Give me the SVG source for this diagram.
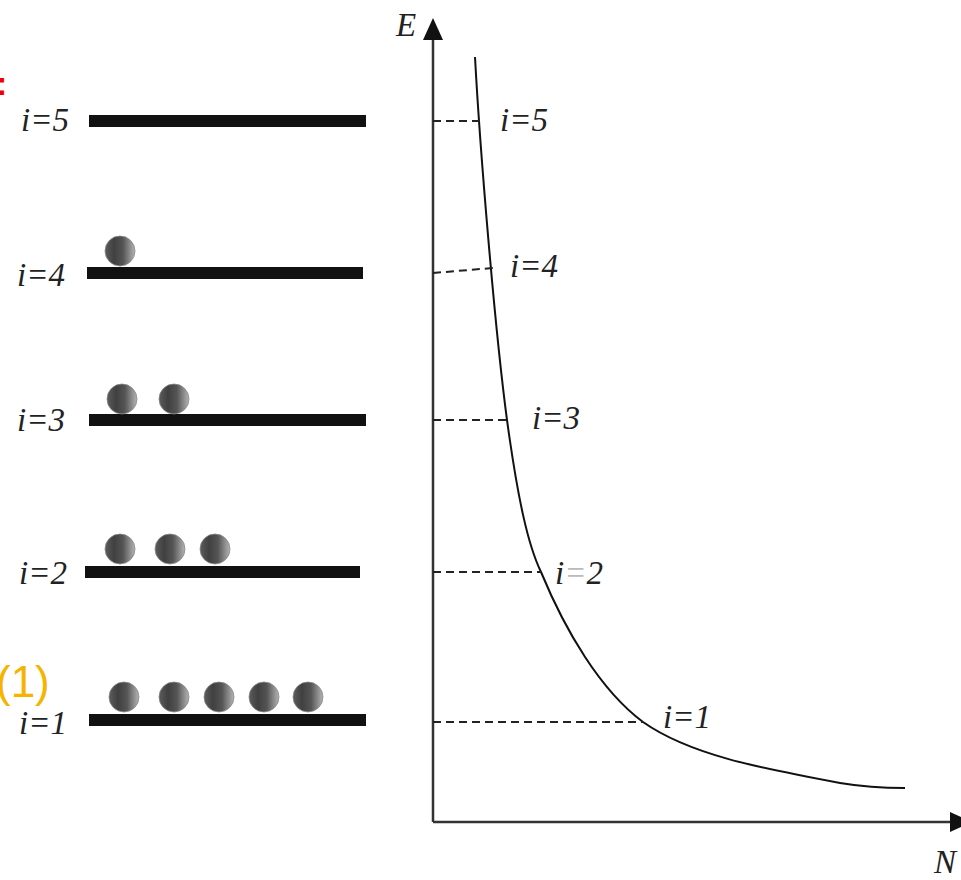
<svg xmlns="http://www.w3.org/2000/svg" width="961" height="880" viewBox="0 0 961 880">
<style>
.bar{fill:#111;}
.lbl{font-family:'Liberation Serif','Times New Roman','DejaVu Serif',serif;font-style:italic;font-size:33px;fill:#222;}
.ball{fill:url(#bg);stroke:#888;stroke-width:0.8;}
.dash{stroke:#222;stroke-width:2;stroke-dasharray:8,5;fill:none;}
.axis{stroke:#333;stroke-width:2.5;fill:none;}
</style>
<defs>
<linearGradient id="bg" x1="0" y1="0" x2="1" y2="0">
<stop offset="0" stop-color="#5c5c5c"/>
<stop offset="0.3" stop-color="#404040"/>
<stop offset="0.6" stop-color="#555"/>
<stop offset="1" stop-color="#b5b5b5"/>
</linearGradient>
</defs>
<rect width="961" height="880" fill="#fff"/>
<text x="-4" y="95" font-family="Liberation Sans,sans-serif" font-size="34" font-weight="bold" fill="#ee0000">:</text>
<text x="-4" y="697" font-family="Liberation Sans,sans-serif" font-size="44" fill="#f5b400">(1)</text>

<g id="level5">
<rect class="bar" x="89" y="115" width="277" height="12"/>
<text class="lbl" x="21" y="131">i=5</text>
</g>
<g id="level4">
<rect class="bar" x="87" y="267" width="276" height="12"/>
<circle class="ball" cx="120" cy="251" r="15"/>
<text class="lbl" x="17" y="286">i=4</text>
</g>
<g id="level3">
<rect class="bar" x="89" y="414" width="277" height="12"/>
<circle class="ball" cx="122" cy="399" r="15"/>
<circle class="ball" cx="174" cy="399" r="15"/>
<text class="lbl" x="17" y="431">i=3</text>
</g>
<g id="level2">
<rect class="bar" x="85" y="566" width="275" height="12"/>
<circle class="ball" cx="120" cy="549" r="15"/>
<circle class="ball" cx="170" cy="549" r="15"/>
<circle class="ball" cx="215" cy="549" r="15"/>
<text class="lbl" x="19" y="584">i=2</text>
</g>
<g id="level1">
<rect class="bar" x="89" y="714" width="277" height="12"/>
<circle class="ball" cx="124" cy="697" r="15"/>
<circle class="ball" cx="174" cy="697" r="15"/>
<circle class="ball" cx="219" cy="697" r="15"/>
<circle class="ball" cx="264" cy="697" r="15"/>
<circle class="ball" cx="308" cy="697" r="15"/>
<text class="lbl" x="19" y="734">i=1</text>
</g>

<g id="axes">
<line class="axis" x1="433" y1="38" x2="433" y2="822"/>
<polygon points="433,18 423,40 443,40" fill="#111"/>
<line class="axis" x1="433" y1="822" x2="952" y2="822"/>
<polygon points="972,822 950,812 950,832" fill="#111"/>
<text class="lbl" x="396" y="36">E</text>
<text class="lbl" x="934" y="873">N</text>
</g>

<g id="connectors">
<path fill="none" stroke="#111" stroke-width="2" stroke-linejoin="round" d="M475,57 C480,150 495,330 507,420 C518,500 528,545 541,572 C565,630 600,690 643,722 C690,755 760,768 840,783 C870,788 890,788 905,788"/>
<line class="dash" x1="433" y1="121" x2="482" y2="121"/>
<line class="dash" x1="433" y1="273" x2="493" y2="268"/>
<line class="dash" x1="433" y1="420" x2="507" y2="420"/>
<line class="dash" x1="433" y1="572" x2="541" y2="572"/>
<line class="dash" x1="433" y1="722" x2="643" y2="722"/>
</g>

<g id="curve-labels">
<text class="lbl" x="500" y="131">i=5</text>
<text class="lbl" x="510" y="277">i=4</text>
<text class="lbl" x="532" y="429">i=3</text>
<text class="lbl" x="555" y="584">i<tspan fill="#bbb">=</tspan>2</text>
<text class="lbl" x="663" y="728">i=1</text>
</g>
</svg>
